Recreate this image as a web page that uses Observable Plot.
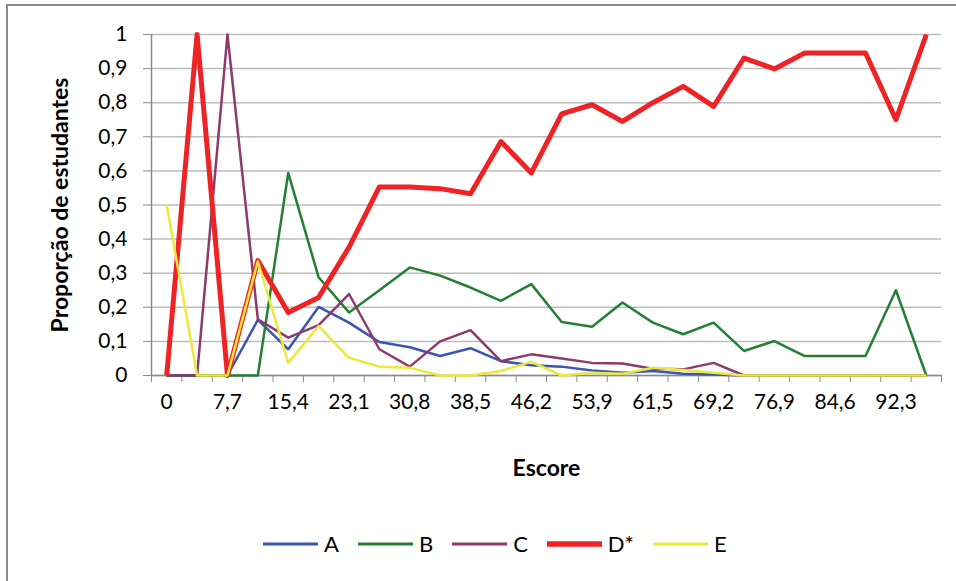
<!DOCTYPE html>
<html>
<head>
<meta charset="utf-8">
<script src="https://cdn.jsdelivr.net/npm/d3@7"></script>
<script src="https://cdn.jsdelivr.net/npm/@observablehq/plot@0.6"></script>
<style>
  html, body { margin: 0; padding: 0; background: #fff; overflow: hidden; }
  body { width: 956px; height: 581px; position: relative; font-family: Lato, "Open Sans", sans-serif; }
  #frame { position: absolute; left: 6px; top: 4px; width: 1000px; height: 620px;
           border-left: 2px solid #8a8a8a; border-top: 2px solid #8a8a8a; box-sizing: border-box; }
  #chart { position: absolute; left: 0; top: 0; }
  #chart [aria-label="y-axis label"], #chart [aria-label="x-axis label"] { font-weight: bold; font-size: 23px; }
  #legend { position: absolute; top: 530px; left: 263px; display: flex; align-items: center; font-size: 22px; color: #000; }
  #legend .item { display: flex; align-items: center; margin-right: 19px; }
  #legend svg { margin-right: 6px; }
</style>
</head>
<body>
<div id="frame"></div>
<div id="chart"></div>
<div id="legend"></div>
<script>
// Categories (score, %), one per point on the x axis
const scores = ["0","3,8","7,7","11,5","15,4","19,2","23,1","26,9","30,8","34,6","38,5","42,3","46,2","50","53,9","57,7","61,5","65,4","69,2","73,1","76,9","80,8","84,6","88,5","92,3","96,2"];
// Series values: proportion of students choosing each option
const seriesA = [0,0,0,0.163,0.077,0.201,0.155,0.098,0.083,0.057,0.08,0.042,0.03,0.026,0.015,0.008,0.013,0.005,0.003,0,0,0,0,0,0,0];
const seriesB = [0,0,0,0,0.594,0.288,0.185,0.25,0.317,0.293,0.258,0.219,0.268,0.157,0.143,0.214,0.155,0.121,0.155,0.072,0.101,0.057,0.057,0.057,0.25,0];
const seriesC = [0,0,1,0.165,0.111,0.148,0.239,0.077,0.026,0.1,0.133,0.042,0.062,0.05,0.037,0.035,0.02,0.018,0.037,0,0,0,0,0,0,0];
const seriesD = [0,1,0,0.337,0.185,0.229,0.376,0.553,0.553,0.548,0.533,0.686,0.594,0.767,0.794,0.745,0.8,0.848,0.789,0.931,0.899,0.946,0.946,0.946,0.75,1];
const seriesE = [0.5,0,0,0.335,0.037,0.145,0.052,0.026,0.023,0,0,0.013,0.04,0,0.008,0.005,0.023,0.016,0.008,0,0,0,0,0,0,0];
// Series names and tick values
const seriesNames = ["A","B","C","D*","E"];
const yTicks = [0,0.1,0.2,0.3,0.4,0.5,0.6,0.7,0.8,0.9,1];

const seriesValues = [seriesA, seriesB, seriesC, seriesD, seriesE];
const colors = ["#3b55b2", "#238033", "#8d3a6c", "#ee2326", "#ece83c"];
const widths = [2.5, 2.5, 2.5, 5, 2.5];

const n = scores.length;
const boundaries = d3.range(n + 1).map(i => i - 0.5);
const labelTicks = d3.range(0, n, 2);

const lineMarks = seriesValues.map((vals, s) =>
  Plot.line(vals.map((v, i) => ({i, v})), {
    x: "i", y: "v", stroke: colors[s], strokeWidth: widths[s],
    strokeLinejoin: "round", strokeLinecap: "butt"
  })
);

const chart = Plot.plot({
  width: 956,
  height: 510,
  marginLeft: 151,
  marginRight: 15,
  marginTop: 34,
  marginBottom: 135,
  x: {domain: [-0.5, n - 0.5]},
  y: {domain: [0, 1]},
  style: {fontFamily: "Lato, 'Open Sans', sans-serif", fontSize: "21px", color: "#000", background: "transparent", overflow: "visible"},
  marks: [
    Plot.gridY(yTicks, {stroke: "#bdbdbd", strokeOpacity: 1, strokeWidth: 1.5}),
    Plot.axisY(yTicks, {
      tickSize: 8, tickPadding: 16, stroke: "#8a8a8a",
      tickFormat: d => String(d).replace(".", ","),
      label: "Proporção de estudantes", labelAnchor: "center", labelArrow: "none", labelOffset: 100
    }),
    Plot.axisX(boundaries, {tickSize: 7, tickFormat: () => "", stroke: "#8a8a8a", label: null}),
    Plot.axisX(labelTicks, {
      tickSize: 0, tickPadding: 19, tickFormat: i => scores[i],
      label: "Escore", labelAnchor: "center", labelArrow: "none", labelOffset: 100
    }),
    Plot.ruleX([-0.5], {stroke: "#8a8a8a", strokeWidth: 1.5}),
    Plot.ruleY([0], {stroke: "#8a8a8a", strokeWidth: 1.5}),
    ...lineMarks
  ]
});
document.getElementById("chart").appendChild(chart);

// Legend
const legend = document.getElementById("legend");
seriesNames.forEach((name, s) => {
  const item = document.createElement("div");
  item.className = "item";
  item.innerHTML = `<svg width="55" height="10"><line x1="0" x2="55" y1="5" y2="5" stroke="${colors[s]}" stroke-width="${widths[s] + 0.5}" stroke-linecap="round"/></svg><span>${name}</span>`;
  legend.appendChild(item);
});
</script>
</body>
</html>
